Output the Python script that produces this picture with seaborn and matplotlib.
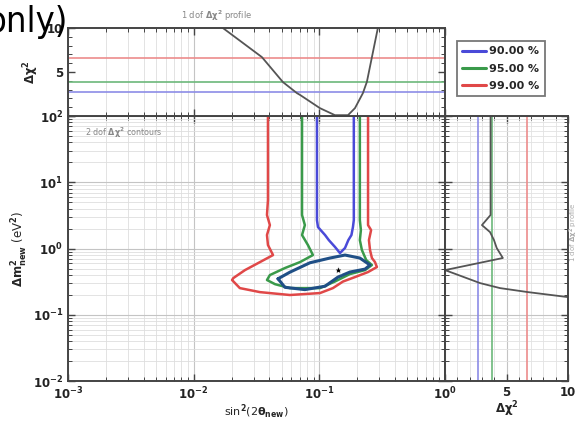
import numpy as np
import pandas as pd
import matplotlib
matplotlib.use("Agg")
import matplotlib.pyplot as plt
from matplotlib.lines import Line2D
from matplotlib.ticker import LogLocator, NullFormatter, MultipleLocator, FixedLocator
import seaborn as sns

# ---- confidence levels (1 dof thresholds) ----
cl_labels = ["90.00 %", "95.00 %", "99.00 %"]
cl_dchi2 = [2.71, 3.84, 6.63]
cl_colors = ["#4a4ad8", "#3a9a4a", "#e04848"]
cl_light = ["#8c8ce6", "#6cb87a", "#ec8c8c"]

# ---- 1 dof profile vs sin^2(2theta) ----
prof_s2t = [0.0171, 0.0349, 0.0513, 0.0664, 0.0702, 0.101, 0.133, 0.169,
            0.192, 0.222, 0.239, 0.262, 0.292]
prof_dchi2 = [10.0, 6.7, 3.86, 2.6, 2.4, 0.9, 0.1, 0.1, 0.9, 2.6, 3.9, 6.7, 10.0]

# ---- 1 dof profile vs dm^2 ----
rprof_dchi2 = [3.7, 3.7, 3.0, 3.66, 3.98, 4.2, 4.7, 0.0, 2.85, 4.47, 6.75, 10.0]
rprof_dm2 = [100.0, 3.21, 2.26, 1.77, 1.34, 1.02, 0.72, 0.473, 0.301, 0.253, 0.22, 0.185]

# ---- 2 dof contours ----
red_s2t = [0.0390, 0.0390, 0.0383, 0.0404, 0.0383, 0.0390, 0.0428, 0.0337,
           0.0256, 0.0207, 0.0202, 0.0233, 0.0337, 0.0583, 0.1012, 0.1282,
           0.1542, 0.192, 0.244, 0.287, 0.277, 0.262, 0.253, 0.248, 0.258, 0.244, 0.244]
red_dm2 = [100.0, 5.39, 3.21, 2.26, 1.60, 1.13, 0.798, 0.625, 0.473, 0.359,
           0.335, 0.253, 0.220, 0.199, 0.213, 0.253, 0.318, 0.371, 0.442,
           0.526, 0.625, 0.719, 0.949, 1.34, 1.90, 2.26, 100.0]

green_s2t = [0.0728, 0.0728, 0.0767, 0.0728, 0.0811, 0.0889, 0.0702, 0.0532,
             0.0404, 0.0383, 0.0444, 0.0583, 0.1012, 0.1330, 0.175, 0.231,
             0.262, 0.236, 0.218, 0.210, 0.214, 0.210, 0.210]
green_dm2 = [100.0, 3.21, 2.26, 1.60, 1.13, 0.798, 0.625, 0.508, 0.398,
             0.335, 0.290, 0.253, 0.253, 0.318, 0.412, 0.473, 0.564, 0.670,
             0.949, 1.34, 1.90, 2.69, 100.0]

blue_up_s2t = [0.0957, 0.0957, 0.0975, 0.1110, 0.1190, 0.1330, 0.1459,
               0.160, 0.170, 0.180, 0.185, 0.188, 0.188]
blue_up_dm2 = [100.0, 2.69, 2.11, 1.60, 1.34, 1.06, 0.855, 1.02, 1.34,
               1.60, 2.11, 2.69, 100.0]

blue_isl_s2t = [0.0469, 0.0583, 0.0841, 0.1213, 0.160, 0.210, 0.253, 0.231,
                0.175, 0.1406, 0.1110, 0.0767, 0.0532, 0.0469]
blue_isl_dm2 = [0.350, 0.440, 0.610, 0.719, 0.798, 0.719, 0.564, 0.490,
                0.442, 0.371, 0.270, 0.240, 0.260, 0.350]

best_s2t = [0.1406]
best_dm2 = [0.473]

sns.set_style("ticks")
plt.rcParams["font.family"] = ["DejaVu Sans"]
plt.rcParams["font.weight"] = "bold"
plt.rcParams["mathtext.default"] = "bf"

fig = plt.figure(figsize=(5.81, 4.22), dpi=100)
ax_main = fig.add_axes([0.117, 0.097, 0.649, 0.628])
ax_top = fig.add_axes([0.117, 0.725, 0.649, 0.2085], sharex=ax_main)
ax_right = fig.add_axes([0.766, 0.097, 0.2117, 0.628], sharey=ax_main)

spine_c = "#444444"
for ax in (ax_main, ax_top, ax_right):
    for s in ax.spines.values():
        s.set_linewidth(1.4)
        s.set_color(spine_c)
    ax.tick_params(which="both", direction="in", top=True, right=True,
                   colors=spine_c, labelcolor="#222222", labelsize=8.5)
    ax.tick_params(which="major", length=5, width=1.0)
    ax.tick_params(which="minor", length=3, width=0.7)

# ---- main panel ----
ax_main.set_xscale("log")
ax_main.set_yscale("log")
ax_main.set_xlim(1e-3, 1)
ax_main.set_ylim(1e-2, 1e2)
ax_main.xaxis.set_minor_locator(LogLocator(base=10, subs=np.arange(2, 10)))
ax_main.yaxis.set_minor_locator(LogLocator(base=10, subs=np.arange(2, 10)))
ax_main.xaxis.set_minor_formatter(NullFormatter())
ax_main.yaxis.set_minor_formatter(NullFormatter())
ax_main.grid(True, which="major", color="#c4c4c4", lw=0.8)
ax_main.grid(True, which="minor", color="#dedede", lw=0.6)
ax_main.set_axisbelow(True)


def draw(ax, xs, ys, color, lw):
    df = pd.DataFrame({"x": xs, "y": ys})
    sns.lineplot(data=df, x="x", y="y", sort=False, estimator=None,
                 color=color, lw=lw, ax=ax, legend=False)


draw(ax_main, red_s2t, red_dm2, cl_colors[2], 1.8)
draw(ax_main, green_s2t, green_dm2, cl_colors[1], 1.8)
draw(ax_main, blue_up_s2t, blue_up_dm2, cl_colors[0], 1.8)
draw(ax_main, blue_isl_s2t, blue_isl_dm2, "#1f4f86", 2.2)
sns.scatterplot(x=best_s2t, y=best_dm2, marker="*", s=40, color="black", ax=ax_main,
                zorder=5)
ax_main.set_xlabel(r"sin$^2$(2$\theta_{new}$)", fontsize=8, labelpad=0)
ax_main.set_ylabel(r"$\Delta m^2_{new}$ (eV$^2$)", fontsize=8.5, labelpad=2)
ax_main.text(0.045, 0.965, r"2 dof $\Delta\chi^2$ contours", transform=ax_main.transAxes,
             fontsize=5.8, color="#888888", fontweight="normal", va="top")

# ---- top panel ----
ax_top.set_ylim(0, 10)
ax_top.yaxis.set_major_locator(FixedLocator([0, 5, 10]))
ax_top.yaxis.set_minor_locator(MultipleLocator(1))
ax_top.set_yticklabels(["", "5", "10"])
ax_top.tick_params(axis="x", which="both", labelbottom=False)
ax_top.grid(True, which="major", axis="x", color="#c4c4c4", lw=0.8)
ax_top.grid(True, which="minor", axis="x", color="#dedede", lw=0.6)
ax_top.set_axisbelow(True)
for v, c in zip(cl_dchi2, cl_light):
    ax_top.axhline(v, color=c, lw=1.2)
draw(ax_top, prof_s2t, prof_dchi2, "#555555", 1.3)
ax_top.set_xlabel("")
ax_top.set_ylabel(r"$\Delta\chi^2$", fontsize=8.5, labelpad=4)
ax_top.text(0.395, 1.06, r"1 dof $\Delta\chi^2$ profile", transform=ax_top.transAxes,
            fontsize=6, color="#888888", fontweight="normal", ha="center",
            va="bottom")

# ---- right panel ----
ax_right.set_xlim(0, 10)
ax_right.xaxis.set_major_locator(FixedLocator([0, 5, 10]))
ax_right.xaxis.set_minor_locator(MultipleLocator(1))
ax_right.set_xticklabels(["", "5", "10"])
ax_right.tick_params(axis="y", which="both", labelleft=False)
ax_right.grid(True, which="major", color="#c4c4c4", lw=0.8)
ax_right.grid(True, which="minor", color="#e2e2e2", lw=0.6)
ax_right.set_axisbelow(True)
for v, c in zip(cl_dchi2, cl_light):
    ax_right.axvline(v, color=c, lw=1.2)
draw(ax_right, rprof_dchi2, rprof_dm2, "#555555", 1.3)
ax_right.set_ylabel("")
ax_right.set_xlabel(r"$\Delta\chi^2$", fontsize=8.5, labelpad=0)
fig.text(0.987, 0.45, r"1 dof $\Delta\chi^2$ profile", rotation=90, fontsize=5,
         color="#aaaaaa", fontweight="normal", ha="center", va="center")

# ---- legend ----
handles = [Line2D([], [], color=c, lw=2.2) for c in cl_colors]
leg = fig.legend(handles, cl_labels, loc="upper left",
                 bbox_to_anchor=(0.786, 0.903), frameon=True, fancybox=False,
                 fontsize=8, handlelength=2.1, handletextpad=0.3,
                 borderpad=0.5, labelspacing=0.65, borderaxespad=0)
leg.get_frame().set_edgecolor("#555555")
leg.get_frame().set_linewidth(1.3)
for t in leg.get_texts():
    t.set_fontweight("bold")

# slide heading fragment at the top edge
fig.text(0.116, 0.925, "only)", fontsize=26, fontweight="normal", ha="right",
         va="baseline", color="black", family="DejaVu Sans",
         fontstretch="condensed")

fig.savefig("out.png", dpi=100)
